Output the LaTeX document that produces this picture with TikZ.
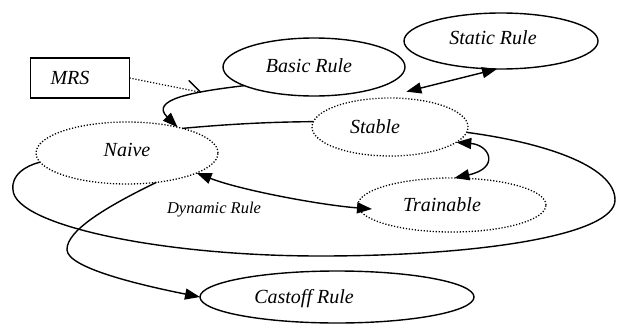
\documentclass[tikz,border=0pt]{standalone}
\usepackage{fontspec}
\setmainfont{Liberation Serif}
\usetikzlibrary{arrows.meta,shapes.geometric}
\tikzset{
    rule/.style={draw, shape=ellipse, line width=1.4pt, inner sep=0pt, outer sep=0pt},
    stage/.style={draw, shape=ellipse, line width=1.3pt, dash pattern=on 1.2pt off 1.8pt, inner sep=0pt, outer sep=0pt},
    box/.style={draw, shape=rectangle, line width=1.5pt, inner sep=0pt, outer sep=0pt},
    conn/.style={line width=1.4pt},
    tip/.style={-{Triangle[length=15pt,width=11pt]}},
    tips/.style={{Triangle[length=15pt,width=11pt]}-{Triangle[length=15pt,width=11pt]}}
}
\begin{document}
\begin{tikzpicture}[x=1pt, y=-1pt, font=\fontsize{20}{24}\selectfont\itshape]
        \useasboundingbox (0, 0) rectangle (617, 324);

        \node (mrs) at (80, 78) [box, minimum width=99pt, minimum height=40pt] {};
        \node (basic) at (314, 67) [rule, minimum width=182pt, minimum height=58pt] {};
        \node (static) at (501, 41) [rule, minimum width=194pt, minimum height=56pt] {};
        \node (stable) at (390, 127) [stage, minimum width=156pt, minimum height=58pt] {};
        \node (naive) at (127, 153) [stage, minimum width=182pt, minimum height=62pt] {};
        \node (trainable) at (452, 205) [stage, minimum width=188pt, minimum height=54pt] {};
        \node (castoff) at (337, 297) [rule, minimum width=274pt, minimum height=52pt] {};

        \node (mrslabel) at (70, 78) {MRS};
        \node (basiclabel) at (309, 66) {Basic Rule};
        \node (staticlabel) at (493, 38) {Static Rule};
        \node (stablelabel) at (375, 127) {Stable};
        \node (naivelabel) at (127, 150) {Naive};
        \node (trainablelabel) at (442, 205) {Trainable};
        \node (castofflabel) at (304, 299) {Castoff Rule};
        \node (dynamic) at (214, 210) [font=\fontsize{16.5}{20}\selectfont\itshape] {Dynamic Rule};

        \draw [conn, tip] (basic.195) .. controls (190, 92) and (150, 100) .. coordinate[pos=0.3] (mrsend) (naive.27);
        \draw [line width=1.2pt, dash pattern=on 1.2pt off 1.8pt] (mrs.east) -- (mrsend);
        \draw [conn] (mrsend) -- +(-12, -12);
        \draw [conn] (naive.24) .. controls (230, 124) and (270, 122) .. (stable.176);
        \draw [conn, tips] ([yshift=7pt]stable.60) -- (static.262);
        \draw [conn, tips] (stable.-13) .. controls (490, 145) and (500, 168) .. (trainable.85);
        \draw [conn, tips] (naive.-16) .. controls (240, 190) and (320, 205) .. ([xshift=14pt, yshift=-4pt]trainable.west);
        \draw [conn] (stable.-4) .. controls (540, 142) and (615, 165) .. (615, 200)
            .. controls (615, 235) and (480, 256) .. (320, 256)
            .. controls (160, 256) and (15, 225) .. (13, 190)
            .. controls (11, 175) and (25, 166) .. (naive.186);
        \draw [conn, tip] (naive.-45) .. controls (110, 205) and (66, 230) .. (67, 250)
            .. controls (68, 268) and (140, 285) .. (castoff.west);
\end{tikzpicture}
\end{document}
